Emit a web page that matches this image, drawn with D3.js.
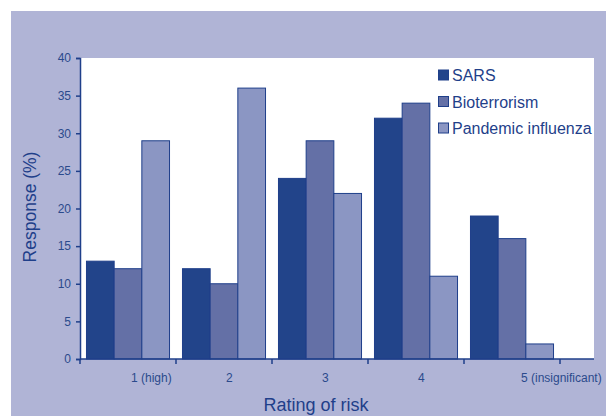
<!DOCTYPE html>
<html><head><meta charset="utf-8">
<script src="https://cdn.jsdelivr.net/npm/d3@7"></script>
<style>
html,body{margin:0;padding:0;background:#fff;}
svg{display:block;font-family:"Liberation Sans",Arial,sans-serif;}
</style></head>
<body><svg id="c" width="606" height="416"></svg>
<script>
const categories = ["1 (high)", "2", "3", "4", "5 (insignificant)"];
const seriesNames = ["SARS", "Bioterrorism", "Pandemic influenza"];
const sars = [13, 12, 24, 32, 19];
const bioterrorism = [12, 10, 29, 34, 16];
const pandemic = [29, 36, 22, 11, 2];
const yTicks = [0, 5, 10, 15, 20, 25, 30, 35, 40];
const colors = ["#22448a", "#6470a6", "#8b96c3"];
const navy = "#1f3f8a";

(function () {
const series = [sars, bioterrorism, pandemic];
const svg = d3.select("#c");

svg.append("rect").attr("x", 11).attr("y", 11).attr("width", 595).attr("height", 405).attr("fill", "#b0b4d6");

const pL = 80, pR = 594, pT = 58, pB = 359;
const bandEnd = 560;
svg.append("rect").attr("x", pL + 1).attr("y", pT).attr("width", pR - pL - 1).attr("height", pB - pT).attr("fill", "#fff");

const x = d3.scaleBand().domain(categories).range([pL, bandEnd]).paddingInner(0.135).paddingOuter(0.0675);
const xOuter = d3.scaleBand().domain(categories).range([pL, bandEnd]);
const xs = d3.scaleBand().domain(seriesNames).range([0, x.bandwidth()]);
const y = d3.scaleLinear().domain([0, 40]).range([pB, pT]);

series.forEach((vals, si) => {
  svg.append("g").selectAll("rect").data(vals).join("rect")
    .attr("x", (d, i) => x(categories[i]) + xs(seriesNames[si]))
    .attr("y", d => y(d))
    .attr("width", xs.bandwidth())
    .attr("height", d => pB - y(d))
    .attr("fill", colors[si])
    .attr("stroke", navy).attr("stroke-width", 1);
});

const yAxis = svg.append("g").attr("transform", `translate(${pL},0)`)
  .call(d3.axisLeft(y).tickValues(yTicks).tickSize(4).tickPadding(5));
yAxis.select(".domain").attr("stroke", navy).attr("stroke-width", 1.5);
yAxis.selectAll(".tick line").attr("stroke", navy).attr("stroke-width", 1.5);
yAxis.selectAll(".tick text").attr("fill", "#2b4a8c").attr("font-size", 12).attr("font-family", "Liberation Sans, Arial, sans-serif");

svg.append("line").attr("x1", pL).attr("x2", pR).attr("y1", pB).attr("y2", pB)
  .attr("stroke", navy).attr("stroke-width", 1.5);
const tickPos = categories.map(c => xOuter(c)).concat([bandEnd]);
svg.append("g").selectAll("line").data(tickPos).join("line")
  .attr("x1", d => d).attr("x2", d => d).attr("y1", pB).attr("y2", pB + 5)
  .attr("stroke", navy).attr("stroke-width", 1.5);

svg.append("g").selectAll("text").data(categories).join("text")
  .attr("x", (d, i) => xOuter(d) + xOuter.bandwidth() / 2 + (i === categories.length - 1 ? 9 : (i === 0 ? 3 : 2)))
  .attr("y", 382)
  .attr("text-anchor", "start")
  .attr("font-size", 12).attr("fill", "#2b4a8c")
  .text(d => d);

svg.append("text").attr("x", 316).attr("y", 411).attr("text-anchor", "middle")
  .attr("font-size", 18).attr("fill", navy).text("Rating of risk");
svg.append("text").attr("transform", "translate(36,207) rotate(-90)").attr("text-anchor", "middle")
  .attr("font-size", 17.5).attr("fill", navy).text("Response (%)");

const lg = svg.append("g").attr("transform", "translate(438,75)");
seriesNames.forEach((n, i) => {
  const g = lg.append("g").attr("transform", `translate(0,${i * 26.5})`);
  g.append("rect").attr("x", 0.5).attr("y", -5).attr("width", 10).attr("height", 10)
    .attr("fill", colors[i]).attr("stroke", navy).attr("stroke-width", 1);
  g.append("text").attr("x", 14).attr("y", 6).attr("font-size", 16).attr("fill", navy).text(n);
});
})();
</script></body></html>
